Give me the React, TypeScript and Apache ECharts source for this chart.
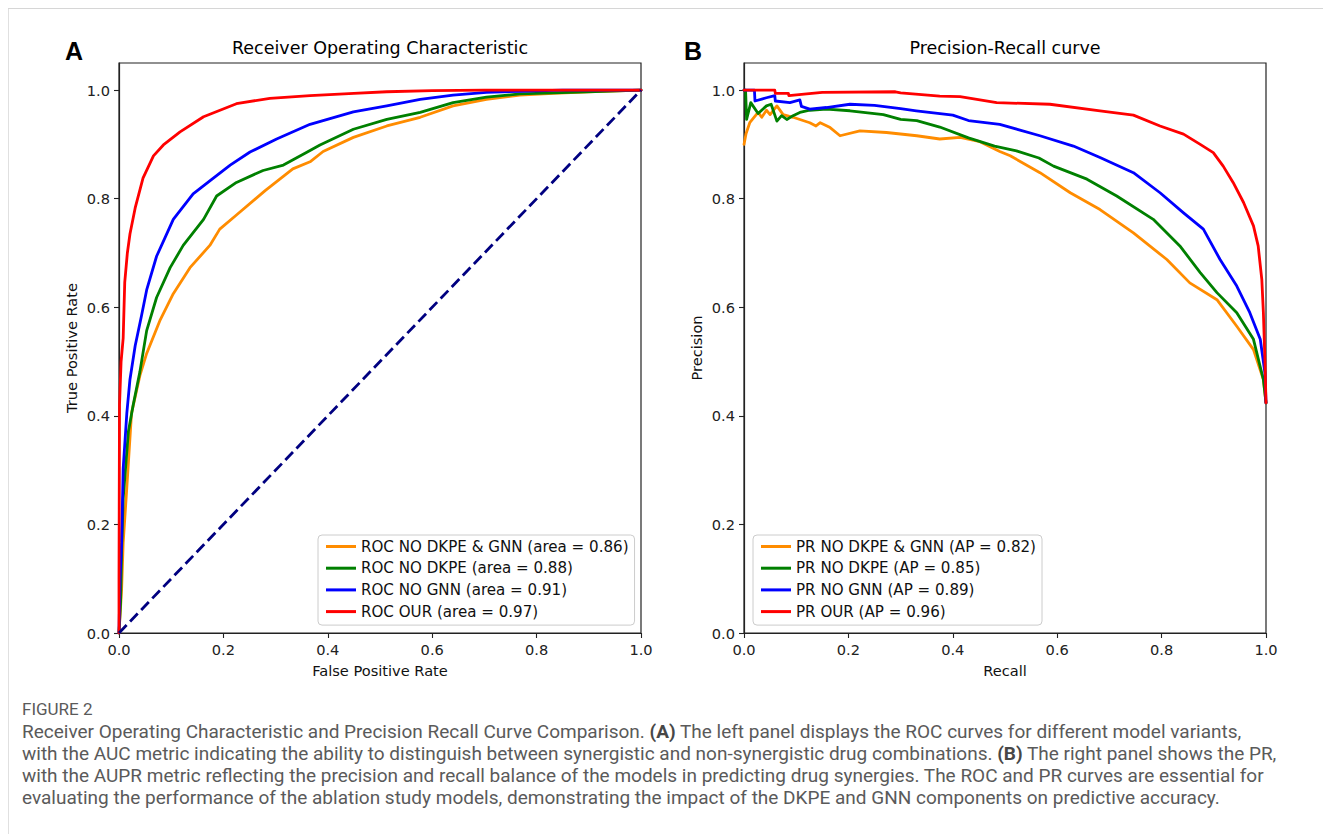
import React, { useEffect, useRef } from "react";
import * as echarts from "echarts";

type P = [number, number];

const rocNames = [
  "ROC NO DKPE & GNN (area = 0.86)",
  "ROC NO DKPE (area = 0.88)",
  "ROC NO GNN (area = 0.91)",
  "ROC OUR (area = 0.97)",
];
const prNames = [
  "PR NO DKPE & GNN (AP = 0.82)",
  "PR NO DKPE (AP = 0.85)",
  "PR NO GNN (AP = 0.89)",
  "PR OUR (AP = 0.96)",
];
const colors = ["#ff8c00", "#008000", "#0000ff", "#ff0000"];
const diagColor = "#000080";
const tickValues = [0, 0.2, 0.4, 0.6, 0.8, 1.0];

// ROC curves: [false positive rate, true positive rate]
const rocOrange: P[] = [
  [0, 0], [0.005, 0.08], [0.008, 0.166], [0.015, 0.268], [0.024, 0.405], [0.04, 0.474],
  [0.053, 0.515], [0.079, 0.577], [0.104, 0.625], [0.136, 0.673], [0.174, 0.714],
  [0.193, 0.744], [0.225, 0.77], [0.28, 0.815], [0.333, 0.855], [0.366, 0.868],
  [0.391, 0.887], [0.449, 0.913], [0.513, 0.934], [0.577, 0.95], [0.64, 0.971],
  [0.704, 0.983], [0.768, 0.991], [0.832, 0.994], [0.9, 0.997], [1, 1],
];
const rocGreen: P[] = [
  [0, 0], [0.003, 0.056], [0.005, 0.15], [0.008, 0.248], [0.018, 0.371], [0.027, 0.419],
  [0.04, 0.481], [0.053, 0.557], [0.072, 0.618], [0.098, 0.673], [0.123, 0.714],
  [0.162, 0.762], [0.187, 0.805], [0.225, 0.83], [0.276, 0.852], [0.315, 0.862],
  [0.359, 0.885], [0.385, 0.899], [0.449, 0.928], [0.513, 0.946], [0.577, 0.959],
  [0.64, 0.977], [0.704, 0.987], [0.768, 0.993], [0.832, 0.995], [0.896, 0.997], [1, 1],
];
const rocBlue: P[] = [
  [0, 0], [0.002, 0.1], [0.005, 0.166], [0.008, 0.303], [0.015, 0.405], [0.021, 0.467],
  [0.031, 0.529], [0.043, 0.584], [0.053, 0.632], [0.072, 0.694], [0.088, 0.728],
  [0.104, 0.762], [0.142, 0.809], [0.174, 0.833], [0.213, 0.862], [0.251, 0.886],
  [0.302, 0.91], [0.366, 0.937], [0.449, 0.96], [0.513, 0.971], [0.577, 0.983],
  [0.64, 0.991], [0.704, 0.996], [0.768, 0.998], [0.85, 1.0], [1, 1],
];
const rocRed: P[] = [
  [0, 0], [0, 0.1], [0.001, 0.42], [0.004, 0.5], [0.008, 0.543], [0.011, 0.646],
  [0.016, 0.7], [0.021, 0.735], [0.031, 0.783], [0.046, 0.838], [0.066, 0.879],
  [0.085, 0.899], [0.117, 0.923], [0.162, 0.951], [0.225, 0.975], [0.289, 0.985],
  [0.366, 0.99], [0.45, 0.994], [0.513, 0.997], [0.6, 0.999], [0.7, 1.0], [1, 1],
];
const rocDiag: P[] = [[0, 0], [1, 1]];

// PR curves: [recall, precision]
const prOrange: P[] = [
  [0, 0.9], [0.004, 0.92], [0.011, 0.94], [0.027, 0.959], [0.034, 0.95], [0.043, 0.963],
  [0.05, 0.955], [0.063, 0.971], [0.075, 0.955], [0.094, 0.95], [0.126, 0.94],
  [0.138, 0.934], [0.146, 0.94], [0.165, 0.931], [0.184, 0.916], [0.222, 0.925],
  [0.273, 0.922], [0.331, 0.916], [0.375, 0.91], [0.414, 0.913], [0.452, 0.905],
  [0.49, 0.887], [0.51, 0.879], [0.567, 0.848], [0.625, 0.811], [0.682, 0.78],
  [0.746, 0.737], [0.81, 0.688], [0.854, 0.645], [0.906, 0.614], [0.944, 0.565],
  [0.976, 0.522], [0.995, 0.467], [1.0, 0.424],
];
const prGreen: P[] = [
  [0, 1.0], [0.003, 1.0], [0.005, 0.946], [0.013, 0.977], [0.027, 0.957], [0.043, 0.971],
  [0.052, 0.974], [0.063, 0.943], [0.072, 0.953], [0.082, 0.946], [0.094, 0.953],
  [0.107, 0.959], [0.126, 0.963], [0.158, 0.965], [0.203, 0.962], [0.267, 0.955],
  [0.3, 0.946], [0.331, 0.944], [0.375, 0.932], [0.43, 0.912], [0.48, 0.897],
  [0.522, 0.888], [0.565, 0.875], [0.593, 0.86], [0.657, 0.836], [0.714, 0.805],
  [0.784, 0.762], [0.835, 0.713], [0.874, 0.664], [0.906, 0.627], [0.944, 0.59],
  [0.976, 0.541], [0.995, 0.467], [1.0, 0.424],
];
const prBlue: P[] = [
  [0, 1.0], [0.02, 1.0], [0.021, 0.98], [0.043, 0.986], [0.059, 0.99], [0.06, 0.98],
  [0.088, 0.977], [0.107, 0.982], [0.11, 0.97], [0.126, 0.965], [0.158, 0.968],
  [0.203, 0.974], [0.25, 0.972], [0.3, 0.966], [0.33, 0.962], [0.4, 0.954],
  [0.43, 0.944], [0.49, 0.937], [0.567, 0.916], [0.631, 0.897], [0.682, 0.876],
  [0.746, 0.848], [0.797, 0.811], [0.842, 0.774], [0.88, 0.744], [0.912, 0.688],
  [0.944, 0.639], [0.969, 0.59], [0.989, 0.541], [0.998, 0.479], [1.0, 0.424],
];
const prRed: P[] = [
  [0, 1.0], [0.059, 1.0], [0.06, 0.994], [0.085, 0.994], [0.086, 0.99], [0.12, 0.993],
  [0.15, 0.996], [0.29, 0.997], [0.3, 0.995], [0.375, 0.989], [0.414, 0.988],
  [0.484, 0.977], [0.586, 0.974], [0.682, 0.962], [0.746, 0.954], [0.797, 0.934],
  [0.842, 0.919], [0.874, 0.9], [0.899, 0.885], [0.918, 0.86], [0.937, 0.83],
  [0.957, 0.793], [0.976, 0.75], [0.985, 0.713], [0.992, 0.651], [0.995, 0.59],
  [0.998, 0.5], [1.0, 0.424],
];

const captionHead = "FIGURE 2";
const captionLines = [
  "Receiver Operating Characteristic and Precision Recall Curve Comparison. {b|(A)} The left panel displays the ROC curves for different model variants,",
  "with the AUC metric indicating the ability to distinguish between synergistic and non-synergistic drug combinations. {b|(B)} The right panel shows the PR,",
  "with the AUPR metric reflecting the precision and recall balance of the models in predicting drug synergies. The ROC and PR curves are essential for",
  "evaluating the performance of the ablation study models, demonstrating the impact of the DKPE and GNN components on predictive accuracy.",
];

const MPL = "'DejaVu Sans', sans-serif";
const FS = 14.6;
const LEG_FS = 15.1;
const CAP_FONT = "Roboto, 'Liberation Sans', sans-serif";
const CAP_FS = 19;
const CAP_LH = 21;
const CAP_COLOR = "#5a5a5a";

function makeAxes(gridIndex: number, xName: string, yName: string) {
  const labelStyle = {
    fontFamily: MPL,
    fontSize: FS,
    color: "#222",
    formatter: (v: number) => v.toFixed(1),
    customValues: tickValues,
  };
  const tick = {
    show: true,
    inside: false,
    length: 5,
    lineStyle: { color: "#222", width: 1.1 },
    customValues: tickValues,
  };
  const x = {
    gridIndex,
    type: "value",
    min: 0,
    max: 1,
    axisLine: { show: true, onZero: false, lineStyle: { color: "#222", width: 1.2 } },
    axisTick: tick,
    axisLabel: { ...labelStyle, margin: 9 },
    splitLine: { show: false },
    name: xName,
    nameLocation: "middle",
    nameGap: 30,
    nameTextStyle: { fontFamily: MPL, fontSize: FS, color: "#111" },
  };
  const y = {
    gridIndex,
    type: "value",
    min: 0,
    max: 1.05,
    axisLine: { show: true, onZero: false, lineStyle: { color: "#222", width: 1.2 } },
    axisTick: tick,
    axisLabel: { ...labelStyle, margin: 9 },
    splitLine: { show: false },
    name: yName,
    nameLocation: "middle",
    nameGap: 40,
    nameTextStyle: { fontFamily: MPL, fontSize: FS, color: "#111" },
  };
  return { x, y };
}

function lineSeries(name: string, data: P[], color: string, axis: number) {
  return {
    type: "line",
    name,
    data,
    xAxisIndex: axis,
    yAxisIndex: axis,
    showSymbol: false,
    symbol: "none",
    smooth: false,
    clip: true,
    color,
    lineStyle: { color, width: 2.8, join: "round", cap: "round" },
    emphasis: { disabled: true },
  };
}

function makeLegend(names: string[], left: number, top: number) {
  return {
    show: true,
    orient: "vertical",
    left,
    top,
    data: names,
    icon: "rect",
    itemWidth: 30,
    itemHeight: 3,
    itemGap: 4.7,
    padding: [3, 6, 5, 8],
    backgroundColor: "rgba(255,255,255,0.8)",
    borderColor: "#cccccc",
    borderWidth: 1,
    borderRadius: 4,
    selectedMode: false,
    textStyle: {
      fontFamily: MPL,
      fontSize: LEG_FS,
      color: "#111",
      lineHeight: 17,
    },
  };
}

export default function App() {
  const ref = useRef<HTMLDivElement>(null);
  useEffect(() => {
    if (!ref.current) return;
    const rect = ref.current.getBoundingClientRect();
    const ox = rect.left;
    const oy = rect.top;
    const X = (v: number) => v - ox;
    const Y = (v: number) => v - oy;
    const chart = echarts.init(ref.current, undefined, { renderer: "svg" });
    const a0 = makeAxes(0, "False Positive Rate", "True Positive Rate");
    const a1 = makeAxes(1, "Recall", "Precision");
    const rocData = [rocOrange, rocGreen, rocBlue, rocRed];
    const prData = [prOrange, prGreen, prBlue, prRed];

    const series: any[] = [];
    rocData.forEach((d, i) => series.push(lineSeries(rocNames[i], d, colors[i], 0)));
    series.push({
      type: "line",
      name: "diag",
      data: rocDiag,
      xAxisIndex: 0,
      yAxisIndex: 0,
      showSymbol: false,
      symbol: "none",
      lineStyle: { color: diagColor, width: 2.8, type: [11, 5] },
      emphasis: { disabled: true },
    });
    prData.forEach((d, i) => series.push(lineSeries(prNames[i], d, colors[i], 1)));

    const captionGraphics: any[] = captionLines.map((t, i) => ({
      type: "text",
      x: X(22),
      y: Y(731 + i * 22.3),
      silent: true,
      style: {
        text: t,
        fontFamily: CAP_FONT,
        fontSize: CAP_FS,
        lineHeight: CAP_LH,
        fill: CAP_COLOR,
        verticalAlign: "middle",
        rich: {
          b: { fontFamily: CAP_FONT, fontSize: CAP_FS, lineHeight: CAP_LH, fontWeight: "bold", fill: "#474747" },
        },
      },
    }));

    chart.setOption({
      animation: false,
      backgroundColor: "#ffffff",
      tooltip: { show: false },
      grid: [
        { left: X(119), top: Y(63), width: 522, height: 570, show: true, borderColor: "#222", borderWidth: 1.2, backgroundColor: "transparent", containLabel: false },
        { left: X(744), top: Y(63), width: 522, height: 570, show: true, borderColor: "#222", borderWidth: 1.2, backgroundColor: "transparent", containLabel: false },
      ],
      xAxis: [a0.x, a1.x],
      yAxis: [a0.y, a1.y],
      legend: [makeLegend(rocNames, X(318), Y(535)), makeLegend(prNames, X(753), Y(535))],
      series,
      graphic: [
        { type: "line", silent: true, shape: { x1: X(8), y1: Y(8), x2: X(1331), y2: Y(8) }, style: { stroke: "#d6d6d6", lineWidth: 2 } },
        { type: "line", silent: true, shape: { x1: X(8), y1: Y(8), x2: X(8), y2: Y(834) }, style: { stroke: "#d6d6d6", lineWidth: 1.5 } },
        { type: "text", x: X(65), y: Y(51), silent: true, style: { text: "A", fontFamily: "'Liberation Sans', Arial, sans-serif", fontWeight: "bold", fontSize: 25, fill: "#000", verticalAlign: "middle" } },
        { type: "text", x: X(684), y: Y(51), silent: true, style: { text: "B", fontFamily: "'Liberation Sans', Arial, sans-serif", fontWeight: "bold", fontSize: 25, fill: "#000", verticalAlign: "middle" } },
        { type: "text", x: X(380), y: Y(48), silent: true, style: { text: "Receiver Operating Characteristic", fontFamily: MPL, fontSize: 17.5, fill: "#000", align: "center", verticalAlign: "middle" } },
        { type: "text", x: X(1005), y: Y(48), silent: true, style: { text: "Precision-Recall curve", fontFamily: MPL, fontSize: 17.5, fill: "#000", align: "center", verticalAlign: "middle" } },
        { type: "text", x: X(22), y: Y(709), silent: true, style: { text: captionHead, fontFamily: CAP_FONT, fontSize: 17, lineHeight: 18, fill: "#5a5a5a", verticalAlign: "middle" } },
        ...captionGraphics,
      ],
    });
    return () => chart.dispose();
  }, []);
  return <div ref={ref} style={{ width: 1323, height: 826 }} />;
}
